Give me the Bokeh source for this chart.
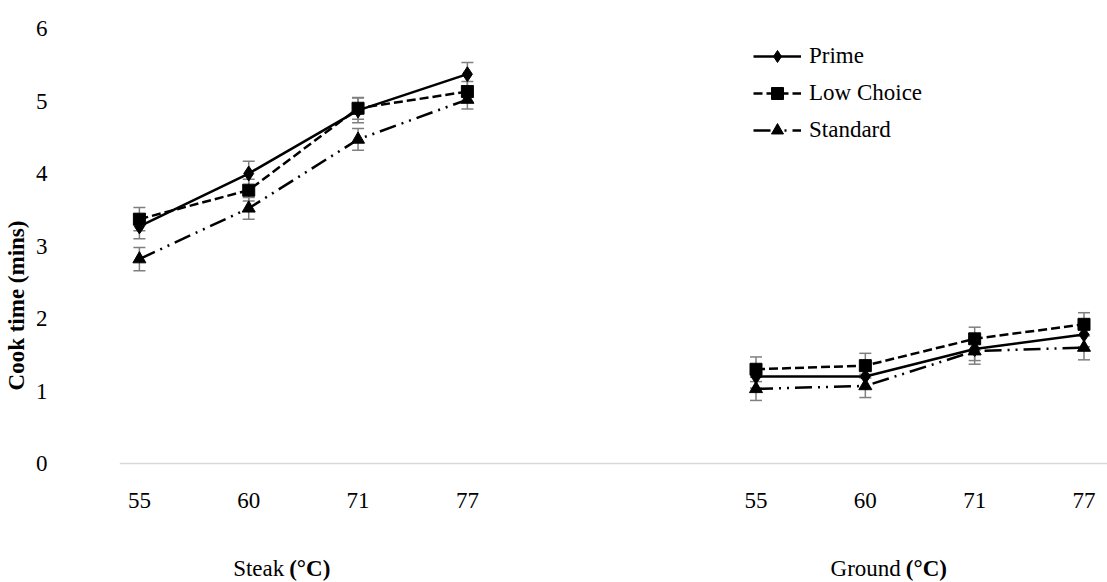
from bokeh.plotting import figure
from bokeh.models import (FixedTicker, Whisker, TeeHead, ColumnDataSource,
                          Legend, LegendItem, Range1d)
from bokeh.core.properties import value
from bokeh.embed import file_html
from bokeh.resources import INLINE

# Cook temperatures (°C) shown for each cut
temps = ["55", "60", "71", "77"]
cuts = ["Steak", "Ground"]

# Mean cook time (mins) by quality grade
steak_prime = [3.27, 4.00, 4.87, 5.37]
steak_low_choice = [3.37, 3.77, 4.90, 5.13]
steak_standard = [2.82, 3.52, 4.47, 5.02]
ground_prime = [1.20, 1.20, 1.58, 1.78]
ground_low_choice = [1.30, 1.35, 1.72, 1.92]
ground_standard = [1.03, 1.07, 1.55, 1.60]

# Standard errors
steak_prime_se = [0.17, 0.17, 0.17, 0.16]
steak_low_choice_se = [0.16, 0.15, 0.15, 0.14]
steak_standard_se = [0.16, 0.15, 0.15, 0.13]
ground_prime_se = [0.16, 0.16, 0.16, 0.17]
ground_low_choice_se = [0.17, 0.17, 0.16, 0.16]
ground_standard_se = [0.16, 0.16, 0.18, 0.17]

FONT = "Liberation Serif"
FS = "23px"
GROUP_START = [0.0, 5.64]   # x offset of each cut's block of temperatures
X_START, X_END = -0.182, 8.855
TICK_Y = -0.51              # row of temperature labels under the axis
CUT_Y = -1.45               # row of cut names

p = figure(width=1107, height=582, output_backend="svg", toolbar_location=None,
           x_range=Range1d(X_START, X_END), y_range=Range1d(-1.641, 6),
           x_axis_location=None,
           min_border_left=113, min_border_right=0, min_border_top=28,
           min_border_bottom=0)
p.outline_line_color = None
p.grid.visible = False
p.background_fill_color = "white"

p.yaxis.ticker = FixedTicker(ticks=[0, 1, 2, 3, 4, 5, 6])
p.yaxis.axis_line_color = None
p.yaxis.major_tick_line_color = None
p.yaxis.minor_tick_line_color = None
p.yaxis.major_label_standoff = 66
p.yaxis.major_label_text_font = FONT
p.yaxis.major_label_text_font_size = FS
p.yaxis.major_label_text_color = "black"
p.yaxis.axis_label = "Cook time (mins)"
p.yaxis.axis_label_text_font = FONT
p.yaxis.axis_label_text_font_size = FS
p.yaxis.axis_label_text_font_style = "bold"
p.yaxis.axis_label_text_color = "black"
p.yaxis.axis_label_standoff = 4

# category axis: baseline, temperature labels and cut names
p.segment(x0=[X_START], y0=[0], x1=[X_END], y1=[0],
          line_color="#d9d9d9", line_width=1.5)
xticks = [g + i for g in GROUP_START for i in range(len(temps))]
p.text(x=xticks, y=[TICK_Y] * len(xticks), text=temps * len(GROUP_START),
       text_font=value(FONT), text_font_size=FS, text_color="black",
       text_align="center", text_baseline="middle")
centers = [g + (len(temps) - 1) / 2 for g in GROUP_START]
p.text(x=[c - 0.175 for c in centers], y=[CUT_Y] * len(cuts), text=cuts,
       text_font=value(FONT), text_font_size=FS, text_color="black",
       text_align="right", text_baseline="middle")
p.text(x=[c - 0.13 for c in centers], y=[CUT_Y] * len(cuts),
       text=["(°C)"] * len(cuts), text_font=value(FONT), text_font_size=FS,
       text_font_style="bold", text_color="black",
       text_align="left", text_baseline="middle")

series = [
    ("Prime", [steak_prime, ground_prime], [steak_prime_se, ground_prime_se],
     "solid", "diamond", 15),
    ("Low Choice", [steak_low_choice, ground_low_choice],
     [steak_low_choice_se, ground_low_choice_se], "9 4", "square", 12),
    ("Standard", [steak_standard, ground_standard],
     [steak_standard_se, ground_standard_se], "17 6 2 6 2 6", "triangle", 13),
]

# error bars underneath
for name, vals, errs, dash, marker, size in series:
    for g, v, e in zip(GROUP_START, vals, errs):
        xs = [g + i for i in range(len(v))]
        src = ColumnDataSource(dict(x=xs, lo=[a - b for a, b in zip(v, e)],
                                    hi=[a + b for a, b in zip(v, e)]))
        w = Whisker(base="x", lower="lo", upper="hi", source=src,
                    line_color="#7f7f7f", line_width=1.5,
                    upper_head=TeeHead(size=12, line_color="#7f7f7f", line_width=1.5),
                    lower_head=TeeHead(size=12, line_color="#7f7f7f", line_width=1.5))
        p.add_layout(w)

items = []
for name, vals, errs, dash, marker, size in series:
    rends = []
    for k, (g, v) in enumerate(zip(GROUP_START, vals)):
        xs = [g + i for i in range(len(v))]
        ln = p.line(xs, v, line_color="black", line_width=2.5, line_dash=dash)
        sc = p.scatter(xs, v, marker=marker, size=size, fill_color="black",
                       line_color="black")
        if k == 0:
            rends = [ln, sc]
    items.append(LegendItem(label=name, renderers=rends))

legend = Legend(items=items, location=(634, 437), orientation="vertical",
                border_line_color=None, background_fill_alpha=0,
                label_text_font=FONT, label_text_font_size=FS,
                label_text_color="black", glyph_width=48, glyph_height=30,
                label_height=30, spacing=7, padding=0, margin=0,
                label_standoff=8)
p.add_layout(legend)

open("out.html", "w").write(file_html(p, INLINE))
